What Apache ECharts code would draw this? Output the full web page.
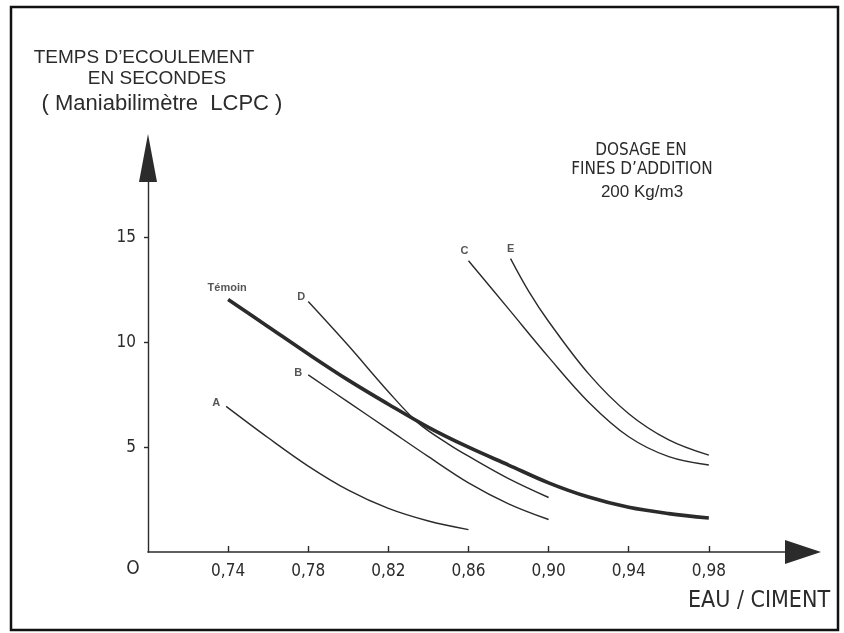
<!DOCTYPE html>
<html>
<head>
<meta charset="utf-8">
<style>
  html, body { margin: 0; padding: 0; background: #fff; }
  #chart { width: 844px; height: 633px; }
</style>
<script src="https://cdn.jsdelivr.net/npm/echarts@6/dist/echarts.min.js"></script>
</head>
<body>
<div id="chart"></div>
<script>
  // x ticks (eau / ciment) and y ticks (secondes)
  const xTicks = [0.74, 0.78, 0.82, 0.86, 0.90, 0.94, 0.98];
  const yTicks = [5, 10, 15];

  // curves
  const temoinX = [0.74, 0.76, 0.78, 0.80, 0.82, 0.84, 0.86, 0.88, 0.90, 0.92, 0.94, 0.96, 0.98];
  const temoinY = [12.05, 10.75, 9.45, 8.2, 7.05, 5.95, 5.0, 4.15, 3.3, 2.62, 2.13, 1.83, 1.62];
  const aX = [0.739, 0.76, 0.78, 0.80, 0.82, 0.84, 0.86];
  const aY = [6.95, 5.45, 4.1, 2.95, 2.08, 1.48, 1.07];
  const bX = [0.78, 0.80, 0.82, 0.84, 0.86, 0.88, 0.90];
  const bY = [8.45, 7.15, 5.85, 4.55, 3.3, 2.3, 1.55];
  const dX = [0.78, 0.80, 0.82, 0.835, 0.85, 0.86, 0.88, 0.90];
  const dY = [11.95, 9.85, 7.65, 6.15, 5.15, 4.57, 3.5, 2.6];
  const cX = [0.86, 0.88, 0.90, 0.92, 0.94, 0.96, 0.98];
  const cY = [13.9, 11.6, 9.3, 7.15, 5.5, 4.55, 4.15];
  const eX = [0.881, 0.89, 0.90, 0.92, 0.94, 0.96, 0.98];
  const eY = [14.0, 12.45, 11.0, 8.5, 6.6, 5.35, 4.62];

  const curveNames = ["Témoin", "A", "B", "C", "D", "E"];

  const zip = (xs, ys) => xs.map((x, i) => [x, ys[i]]);
  const curves = {
    "Témoin": zip(temoinX, temoinY),
    A: zip(aX, aY),
    B: zip(bX, bY),
    C: zip(cX, cY),
    D: zip(dX, dY),
    E: zip(eX, eY)
  };

  const ink = "#2b2b2b";
  const narrow = "'Liberation Sans Narrow', 'DejaVu Sans Condensed', sans-serif";
  const sans = "'Liberation Sans', Arial, sans-serif";

  // where each name sits next to the start of its curve
  const labelOffset = {
    "Témoin": [-1, -11], A: [-10, -3], B: [-10, -2], C: [-4, -10], D: [-7, -5], E: [0, -10]
  };

  const lineSeries = curveNames.map(name => ({
    name: name,
    type: "line",
    smooth: 0.35,
    showSymbol: false,
    silent: true,
    lineStyle: { color: ink, width: name === "Témoin" ? 3.6 : 1.4 },
    data: curves[name]
  }));

  const labelSeries = {
    type: "scatter",
    silent: true,
    symbolSize: 1,
    itemStyle: { color: "rgba(0,0,0,0)" },
    data: curveNames.map(name => ({
      value: curves[name][0],
      label: {
        show: true,
        position: "inside",
        formatter: name,
        offset: labelOffset[name],
        color: ink,
        fontFamily: sans,
        fontWeight: "bold",
        fontSize: 11
      }
    }))
  };

  const myChart = echarts.init(document.getElementById("chart"));

  const option = {
    backgroundColor: "#fff",
    animation: false,
    grid: { left: 148, right: 41, top: 158, bottom: 81 },
    xAxis: {
      type: "value",
      min: 0.70,
      max: 1.027,
      interval: 0.04,
      splitLine: { show: false },
      axisLine: {
        lineStyle: { color: ink, width: 1.6 },
        symbol: ["none", "triangle"],
        symbolSize: [24, 36]
      },
      axisTick: {
        customValues: xTicks,
        inside: true,
        length: 6,
        lineStyle: { color: ink, width: 1.4 }
      },
      axisLabel: {
        customValues: xTicks,
        margin: 11,
        color: ink,
        fontFamily: narrow,
        fontSize: 17,
        formatter: v => v.toFixed(2).replace(".", ",")
      }
    },
    yAxis: {
      type: "value",
      min: 0,
      max: 18.8,
      interval: 5,
      splitLine: { show: false },
      axisLine: {
        lineStyle: { color: ink, width: 1.4 },
        symbol: ["none", "triangle"],
        symbolSize: [18, 48]
      },
      axisTick: {
        customValues: yTicks,
        length: 4,
        lineStyle: { color: ink, width: 1.4 }
      },
      axisLabel: {
        customValues: yTicks,
        margin: 12,
        color: ink,
        fontFamily: narrow,
        fontSize: 17,
        padding: [10, 0, 0, 0]
      }
    },
    graphic: [
      {
        type: "rect",
        shape: { x: 11, y: 7, width: 827, height: 623 },
        style: { fill: "none", stroke: "#111", lineWidth: 2.5 },
        silent: true
      },
      {
        type: "text", x: 144, y: 58,
        style: { text: "TEMPS D’ECOULEMENT", fill: ink, font: "19px " + sans, align: "center", verticalAlign: "middle" }
      },
      {
        type: "text", x: 157, y: 79,
        style: { text: "EN SECONDES", fill: ink, font: "19px " + sans, align: "center", verticalAlign: "middle" }
      },
      {
        type: "text", x: 162, y: 104,
        style: { text: "( Maniabilimètre  LCPC )", fill: ink, font: "22px " + sans, align: "center", verticalAlign: "middle" }
      },
      {
        type: "text", x: 641, y: 151,
        style: { text: "DOSAGE EN", fill: ink, font: "17px " + narrow, align: "center", verticalAlign: "middle" }
      },
      {
        type: "text", x: 642, y: 170,
        style: { text: "FINES D’ADDITION", fill: ink, font: "17px " + narrow, align: "center", verticalAlign: "middle" }
      },
      {
        type: "text", x: 642, y: 192,
        style: { text: "200 Kg/m3", fill: ink, font: "17px " + sans, align: "center", verticalAlign: "middle" }
      },
      {
        type: "text", x: 133, y: 569,
        style: { text: "O", fill: ink, font: "19px " + narrow, align: "center", verticalAlign: "middle" }
      },
      {
        type: "text", x: 759, y: 601,
        style: { text: "EAU / CIMENT", fill: ink, font: "23px " + narrow, align: "center", verticalAlign: "middle" }
      }
    ],
    series: lineSeries.concat([labelSeries])
  };

  myChart.setOption(option);
</script>
</body>
</html>
